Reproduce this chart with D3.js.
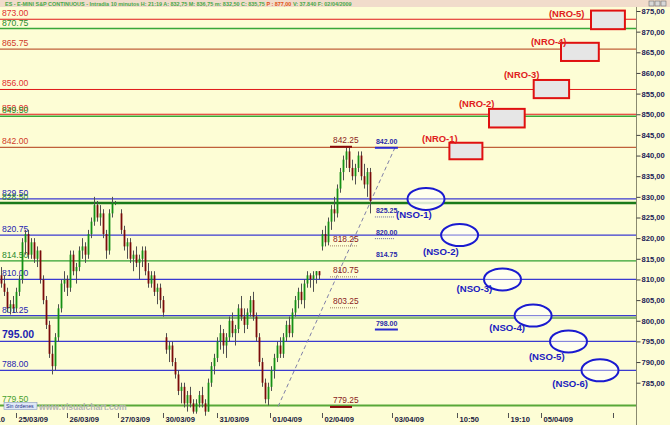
<!DOCTYPE html>
<html><head><meta charset="utf-8">
<script src="https://cdn.jsdelivr.net/npm/d3@7"></script>
<style>
body{margin:0;background:#fdfdd5;}
svg{display:block;font-family:"Liberation Sans",Arial,sans-serif;}
</style>
</head><body>
<svg id="c" width="670" height="425"></svg>
<script>
// ---------- DATA ----------
const title = "ES - E-MINI S&P CONTINUOUS - Intradía 10 minutos H: 21:19 A: 832,75 M: 836,75 m: 832,50 C: 835,75 ";
const titleP = "P : 877,00";
const titleEnd = " V: 37.840 F: 02/04/2009";

// horizontal levels
const levelValues = [873.00, 870.75, 865.75, 856.00, 850.00, 849.50, 842.00, 829.50, 828.50, 820.75, 814.50, 810.00, 801.25, 800.75, 795.00, 788.00, 779.50];
const levelLabels = ["873.00","870.75","865.75","856.00","850.00","849.50","842.00","829.50","828.50","820.75","814.50","810.00","801.25","","795.00","788.00","779.50"];
const levelTypes  = ["R","S1","R2","R","R","S1","R2","B","S2","B","S3","B","B","S4","Bbig","B","S5"];

// candles: [open, high, low, close]
const candles = [
[811,813,808,809],[809,811,806,807],[807,808,802,803],[803,805,801.5,804],[804,806,802,803],
[803,808,802,807],[807,811,806,810],[810,820,809,819],[819,822,816,821],[821,822,815,816],
[816,820,815,819],[819,820,814,815],[815,818,813,817],[817,817,809,810],[810,811,804,805],
[805,806,798,799],[799,800,791,792],[792,794,787,789],[789,797,788,796],[796,804,795,803],
[803,810,802,809],[809,812,807,810],[810,811,806,808],[808,817,807,816],[816,817,811,812],
[812,814,809,813],[813,818,812,817],[817,820,815,818],[818,819,814,816],[816,822,815,821],
[821,825,820,824],[824,830,823,828],[828,829,824,825],[825,828,823,826],[826,827,820,821],
[821,822,815,817],[817,827,816,826],[826,830,825,828.5],[828.5,829,828,828.5],[828.5,828.5,828.5,828.5],
[826,827,821,822],[822,823,817,818],[818,820,815,819],[819,820,814,815],[815,817,812,816],
[816,818,813,814],[814,816,810,815],[815,818,813,817],[817,818,811,812],[812,814,808,809],
[809,812,808,811],[811,812,806,807],[807,809,804,808],[808,809,803,805],[805,806,801,802],
[796,797,792,793],[793,795,790,794],[794,795,789,790],[790,791,786,787],[787,788,782,783],
[783,785,780,784],[784,785,779,780],[780,783,778,782],[782,784,779,780],[780,781,777.5,778],
[778,781,777.5,780],[780,783,779,782],[782,784,779,780],[780,781,777,778],[778,786,778,785],
[785,790,784,789],[789,792,787,791],[791,796,790,795],[795,799,793,797],[797,798,792,794],
[794,797,791,796],[796,801,795,800],[800,802,796,797],[797,799,794,798],[798,804,797,803],
[803,806,800,801],[801,803,797,799],[799,803,798,802],[802,806,801,805],[805,807,800,801],
[801,802,795,796],[796,797,789,790],[790,791,784,785],[785,786,780,781],[781,785,779.5,784],
[784,789,783,788],[788,792,786,791],[791,795,790,794],[794,796,791,792],[792,797,791,796],
[796,800,795,799],[799,801,796,797],[797,803,796,802],[802,806,801,805],[805,808,803,807],
[807,809,804,805],[805,810,803,809],[809,812,808,811],[811,811.5,808,810],[810,812,807,811],
[811,812,809,812],[812,812,810,811],[818,822,817,821],[821,823,818,819],[819,825,818.25,824],
[824,828,822,827],[827,830,824,826],[826,833,825,832],[832,837,831,836],[836,840,834,839],
[839,842.25,837,841],[841,842,836,837],[837,839,834,835],[835,838,833,837],[837,841,836,840],
[840,841,834,835],[835,838,832,833],[833,837,830,836],[836,837,826,829]
];

// x axis (slot index domain)
const tickSlots  = [-5.67, 5.33, 22.33, 39.33, 54.33, 72.33, 90, 107.33, 130.67, 152.33, 169.33, 180.33, 204.33];
const tickLabels = ["19:10","25/03/09","26/03/09","27/03/09","30/03/09","31/03/09","01/04/09","02/04/09","03/04/09","10:50","19:10","05/04/09",""];
const priceTicks = [875,870,865,860,855,850,845,840,835,830,825,820,815,810,805,800,795,790,785];

// price annotations
const extremeValues = [842.25, 818.25, 810.75, 803.25, 779.25];
const extremeSolid  = [true, false, false, false, true];
const extremeSlot = 111;
const targetValues = [842.00, 825.25, 820.00, 814.75, 798.00];
const targetSolid  = [true, false, false, false, true];
const targetSlot = 125.3;

// trend line
const trendSlots = [92.7, 131.7];
const trendValues = [779.25, 842.00];

// NRO boxes
const nroNames = ["(NRO-1)","(NRO-2)","(NRO-3)","(NRO-4)","(NRO-5)"];
const nroSlotStart = [149.8, 163.0, 177.9, 187.0, 197.0];
const nroSlotEnd   = [160.8, 174.9, 189.7, 199.6, 208.3];
const nroHigh = [843.1, 851.3, 858.3, 867.3, 875.1];
const nroLow  = [839.1, 846.8, 853.9, 862.9, 870.6];
const nroLabelSlot = [140.7, 153.0, 168.0, 177.0, 183.0];
const nroLabelValue = [843.3, 851.8, 858.8, 866.8, 873.6];

// NSO ellipses
const nsoNames = ["(NSO-1)","(NSO-2)","(NSO-3)","(NSO-4)","(NSO-5)","(NSO-6)"];
const nsoSlot  = [142.0, 153.2, 167.5, 177.7, 189.5, 200.0];
const nsoValue = [829.5, 820.75, 810.0, 801.25, 795.0, 788.0];
const nsoLabelSlot  = [132.0, 141.0, 152.2, 163.1, 176.3, 184.1];
const nsoLabelValue = [824.9, 815.9, 807.0, 797.5, 790.5, 784.0];

// ---------- DRAW ----------
const svg = d3.select("#c");
const W = 670, H = 425, plotR = 636;
const x = d3.scaleLinear().domain([0, 212]).range([0, 636]);
const y = d3.scaleLinear().domain([785, 875]).range([382.7, 11]);

svg.append("rect").attr("width", W).attr("height", H).attr("fill", "#fdfdd5");

// header
svg.append("rect").attr("x",0).attr("y",0).attr("width",W).attr("height",7).attr("fill","#f1dccb");
const ht = svg.append("text").attr("x",5).attr("y",6).attr("font-size",5.45).attr("font-weight","bold").attr("fill","#48a848");
ht.append("tspan").text(title);
ht.append("tspan").attr("fill","#e05010").text(titleP);
ht.append("tspan").text(titleEnd);
svg.selectAll("rect.btn").data([0,1,2]).join("rect").attr("class","btn")
  .attr("x",d=>649+d*6).attr("y",1).attr("width",5).attr("height",5)
  .attr("fill","#d8d8d8").attr("stroke","#707070").attr("stroke-width",0.6);

const lvlStyle = {
  R:{c:"#e01818",w:1,t:"#e03030"},
  R2:{c:"#c0603a",w:1.2,t:"#d03a28"},
  S1:{c:"#38a838",w:1.5,t:"#2a8a2a"},
  S2:{c:"#1a7a1a",w:2.5,t:"#2a8a2a"},
  S3:{c:"#30a030",w:1.2,t:"#2a8a2a"},
  S4:{c:"#88b870",w:2.5,t:"#2a8a2a"},
  S5:{c:"#58a838",w:2,t:"#48a030"},
  B:{c:"#3a3ad0",w:1.3,t:"#1e1eb0"},
  Bbig:{c:"#3a3ad0",w:1.3,t:"#1e1eb0"}
};
const lvlIdx = d3.range(levelValues.length);
svg.selectAll("line.lvl").data(lvlIdx).join("line").attr("class","lvl")
  .attr("x1",0).attr("x2",plotR)
  .attr("y1",i=>y(levelValues[i])).attr("y2",i=>y(levelValues[i]))
  .attr("stroke",i=>lvlStyle[levelTypes[i]].c).attr("stroke-width",i=>lvlStyle[levelTypes[i]].w);

svg.selectAll("text.lvl").data(lvlIdx.filter(i=>levelLabels[i])).join("text").attr("class","lvl")
  .attr("x",2).attr("y",i=>y(levelValues[i])-3)
  .attr("font-size",i=>levelTypes[i]==="Bbig"?10.5:8.6)
  .attr("font-weight",i=>levelTypes[i]==="Bbig"?"bold":"normal")
  .attr("fill",i=>lvlStyle[levelTypes[i]].t)
  .text(i=>levelLabels[i]);

svg.append("text").attr("x",39).attr("y",410).attr("font-size",8.6).attr("font-weight","bold")
  .attr("fill","#b4b4b4").text("www.visualchart.com");
svg.append("rect").attr("x",4).attr("y",402.5).attr("width",33).attr("height",7)
  .attr("fill","#dfe8f6").attr("stroke","#8898c0").attr("stroke-width",0.6);
svg.append("text").attr("x",6).attr("y",408.3).attr("font-size",5.2).attr("fill","#23308a").text("Sin órdenes");

svg.append("line")
  .attr("x1",x(trendSlots[0])).attr("y1",y(trendValues[0]))
  .attr("x2",x(trendSlots[1])).attr("y2",y(trendValues[1]))
  .attr("stroke","#8080a8").attr("stroke-width",1).attr("stroke-dasharray","4,3");

const bw = 1.8;
const cg = svg.append("g");
candles.forEach((c,i)=>{
  const cx = x(i+0.5);
  cg.append("line").attr("x1",cx).attr("x2",cx).attr("y1",y(c[1])).attr("y2",y(c[2]))
    .attr("stroke","#505050").attr("stroke-width",1);
  const up = c[3] >= c[0];
  const top = y(Math.max(c[0],c[3])), bot = y(Math.min(c[0],c[3]));
  cg.append("rect").attr("x",cx-bw/2).attr("y",top).attr("width",bw).attr("height",Math.max(1,bot-top))
    .attr("fill",up?"#149014":"#7a0a0a");
});

extremeValues.forEach((v,i)=>{
  const xx = x(extremeSlot);
  svg.append("text").attr("x",xx).attr("y",y(v)-3).attr("font-size",8.4).attr("fill","#8a1c1c").text(v.toFixed(2));
  svg.append("line").attr("x1",xx-3).attr("x2",xx+(extremeSolid[i]?19:24)).attr("y1",y(v)+0.5).attr("y2",y(v)+0.5)
    .attr("stroke",extremeSolid[i]?"#8a0a0a":"#a08060").attr("stroke-width",extremeSolid[i]?2:1)
    .attr("stroke-dasharray",extremeSolid[i]?null:"1,1");
});
targetValues.forEach((v,i)=>{
  const xx = x(targetSlot);
  svg.append("text").attr("x",xx).attr("y",y(v)-3).attr("font-size",7).attr("font-weight","bold")
    .attr("fill","#2a2aa8").text(v.toFixed(2));
  if (i !== 3) svg.append("line").attr("x1",xx-1).attr("x2",xx+(targetSolid[i]?22:19)).attr("y1",y(v)+0.5).attr("y2",y(v)+0.5)
    .attr("stroke",targetSolid[i]?"#2a2ad0":"#6060a0").attr("stroke-width",targetSolid[i]?2:1)
    .attr("stroke-dasharray",targetSolid[i]?null:"1,1");
});

nroNames.forEach((n,i)=>{
  svg.append("rect").attr("x",x(nroSlotStart[i])).attr("y",y(nroHigh[i]))
    .attr("width",x(nroSlotEnd[i])-x(nroSlotStart[i])).attr("height",y(nroLow[i])-y(nroHigh[i]))
    .attr("fill","#e6e6e6").attr("stroke","#e01010").attr("stroke-width",2);
  svg.append("text").attr("x",x(nroLabelSlot[i])).attr("y",y(nroLabelValue[i]))
    .attr("font-size",9.4).attr("font-weight","bold").attr("fill","#e02020").text(n);
});
nsoNames.forEach((n,i)=>{
  svg.append("ellipse").attr("cx",x(nsoSlot[i])).attr("cy",y(nsoValue[i])).attr("rx",18.5).attr("ry",11)
    .attr("fill","#fffff2").attr("fill-opacity",0.85).attr("stroke","#1a1ad0").attr("stroke-width",2);
  svg.append("line").attr("x1",x(nsoSlot[i])-18).attr("x2",x(nsoSlot[i])+18)
    .attr("y1",y(nsoValue[i])).attr("y2",y(nsoValue[i])).attr("stroke","#3a3ad0").attr("stroke-width",1).attr("opacity",0.6);
  svg.append("text").attr("x",x(nsoLabelSlot[i])).attr("y",y(nsoLabelValue[i]))
    .attr("font-size",9.6).attr("font-weight","bold").attr("fill","#1a1ac0").text(n);
});

svg.append("line").attr("x1",plotR+0.5).attr("x2",plotR+0.5).attr("y1",7).attr("y2",H).attr("stroke","#8a8a70").attr("stroke-width",1);
const ra = svg.append("g").attr("transform",`translate(${plotR+0.5},0)`)
  .call(d3.axisRight(y).tickValues(priceTicks).tickSize(4).tickPadding(1)
    .tickFormat(d=>d.toFixed(2).replace(".",",")));
ra.select(".domain").remove();
ra.selectAll("line").attr("stroke","#404040");
ra.selectAll("text").attr("font-size",7.6).attr("font-weight","bold").attr("fill","#1c1c58")
  .attr("font-family","'Liberation Sans',Arial,sans-serif");

const ba = svg.append("g").attr("transform","translate(0,413)")
  .call(d3.axisBottom(x).tickValues(tickSlots).tickSize(5).tickFormat((d,i)=>tickLabels[i]));
ba.select(".domain").remove();
ba.selectAll("line").attr("stroke","#505050");
ba.selectAll("text").attr("text-anchor","start").attr("x",2).attr("y",4)
  .attr("font-size",7.6).attr("font-weight","bold").attr("fill","#202040")
  .attr("font-family","'Liberation Sans',Arial,sans-serif");
</script>
</body></html>
